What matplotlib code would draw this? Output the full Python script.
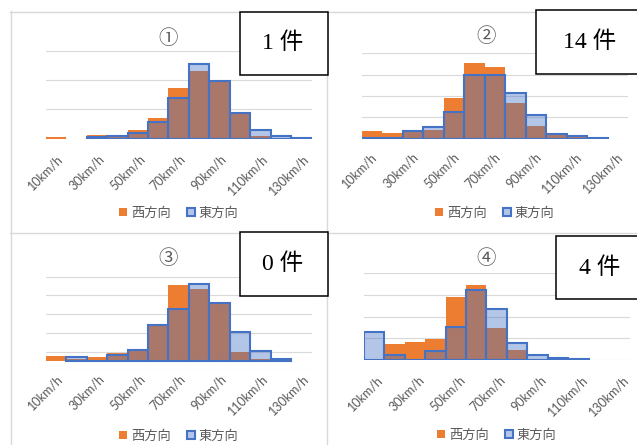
import matplotlib.pyplot as plt
from matplotlib.patches import Rectangle, Patch
from matplotlib.lines import Line2D
from matplotlib.transforms import ScaledTranslation
import numpy as np

nan = np.nan

speeds = ['10km/h', '20km/h', '30km/h', '40km/h', '50km/h', '60km/h', '70km/h',
          '80km/h', '90km/h', '100km/h', '110km/h', '120km/h', '130km/h']
series_names = ['西方向', '東方向']
titles = ['①', '②', '③', '④']
counts = ['1 件', '14 件', '0 件', '4 件']

# values (share per speed class)
west1 = [0.45, 0, 1.1, 0.7, 3.0, 7.0, 17.3, 23.0, 19.8, 8.9, 0.9, 0.4, 0]
east1 = [nan, nan, 0.45, 0.8, 2.0, 5.7, 14.0, 25.5, 19.8, 8.9, 2.8, 0.8, 0.1]
west2 = [3.6, 2.5, 3.1, 4.1, 19.2, 35.6, 33.7, 16.6, 5.9, 1.6, 1.0, 0, 0]
east2 = [0.2, 0.5, 3.6, 5.6, 12.7, 30.0, 29.7, 21.4, 10.9, 2.3, 1.2, 0.2, nan]
west3 = [2.9, 1.0, 2.3, 4.1, 5.7, 19.1, 40.5, 38.2, 30.2, 5.0, 1.2, 0, 0]
east3 = [nan, 2.1, 0, 3.2, 5.7, 19.1, 27.7, 41.2, 31.1, 15.2, 5.2, 0.9, nan]
west4 = [0.8, 7.5, 8.2, 9.9, 29.0, 34.2, 14.9, 4.9, 0.5, 0, 0, 0, 0]
east4 = [13.1, 2.3, 0, 4.1, 15.1, 31.9, 23.6, 7.8, 2.6, 1.1, 0.5, nan, nan]

W, H = 637, 445
ORANGE = '#ED7D31'
BLUE = '#4472C4'
BLUE_FILL = (0.267, 0.447, 0.769, 0.4)
GRAY_TXT = '#595959'
GRID = '#D9D9D9'

plt.rcParams['font.family'] = ['Lato', 'Noto Sans CJK JP', 'DejaVu Sans']

fig = plt.figure(figsize=(W / 100, H / 100), dpi=100)


def fx(x):
    return x / W


def fy(y):
    return 1 - y / H


# chart area borders
for x0, y0, x1, y1 in [(10.5, 11, 10.5, 445), (326.5, 11, 326.5, 445),
                       (10, 11.5, 637, 11.5), (10, 233, 637, 233)]:
    fig.add_artist(Line2D([fx(x0), fx(x1)], [fy(y0), fy(y1)], color=GRID, lw=1,
                          transform=fig.transFigure))

panels = [
    # west, east, axes box px, ylim, grid ticks, title xy, legend y, count box, count xy, label offset px
    (west1, east1, (45.7, 50.7, 311.7, 138.7), (0, 30), [0, 10, 20, 30], (168, 38), 213,
     (240, 12, 328, 75), (283, 43), (5, 18)),
    (west2, east2, (361.7, 53.3, 628, 138.7), (0, 40), [0, 10, 20, 30, 40], (486, 37), 213,
     (536, 10, 640, 74), (590, 42), (3, 16)),
    (west3, east3, (45.7, 276.7, 311.7, 370.3), (-5, 45), [-5, 5, 15, 25, 35, 45], (168, 258), 436,
     (240, 232, 328, 296), (283, 264), (5, 6)),
    (west4, east4, (363.7, 272.7, 629.7, 360.3), (0, 40), [0, 10, 20, 30, 40], (486, 258), 435,
     (556, 236, 640, 299), (600, 268), (7, 17)),
]

x = np.arange(len(speeds))

for i, (west, east, box, ylim, gticks, txy, legy, cbox, cxy, loff) in enumerate(panels):
    l, t, r, b = box
    ax = fig.add_axes([fx(l), fy(b), fx(r - l), (b - t) / H])
    west = np.array(west, dtype=float)
    east = np.array(east, dtype=float)

    ax.bar(x, west, width=1.0, color=ORANGE, zorder=2)
    m = ~np.isnan(east)
    ax.bar(x[m], east[m], width=1.0, facecolor=BLUE_FILL,
           edgecolor=BLUE, linewidth=1.5, zorder=3)

    ax.set_xlim(-0.5, len(speeds) - 0.5)
    ax.set_ylim(*ylim)
    ax.set_yticks(gticks)
    ax.yaxis.grid(True, color=GRID, linewidth=0.8, zorder=0)
    ax.set_axisbelow(True)
    ax.tick_params(axis='y', length=0, labelleft=False)
    for s in ax.spines.values():
        s.set_visible(False)
    ax.set_xticks(x[::2])
    ax.set_xticklabels(speeds[::2], rotation=45, ha='right', va='center',
                       rotation_mode='anchor', fontsize=9, color=GRAY_TXT)
    ax.tick_params(axis='x', length=0, pad=loff[1] * 0.72)
    shift = ScaledTranslation(loff[0] / 100, 0, fig.dpi_scale_trans)
    for lab in ax.get_xticklabels():
        lab.set_transform(lab.get_transform() + shift)

    fig.text(fx(txy[0]), fy(txy[1]), titles[i], ha='center', va='center',
             fontsize=14, color=GRAY_TXT, family=['Noto Sans CJK JP', 'DejaVu Sans'])

    handles = [Patch(facecolor=ORANGE, edgecolor='none'),
               Patch(facecolor=BLUE_FILL, edgecolor=BLUE, linewidth=1.5)]
    fig.legend(handles, series_names, loc='center', bbox_to_anchor=(fx((l + r) / 2), fy(legy)),
               ncol=2, frameon=False, handlelength=0.6, handleheight=0.6,
               handletextpad=0.3, columnspacing=1.2, labelcolor=GRAY_TXT,
               prop={'family': ['Noto Sans CJK JP', 'DejaVu Sans'], 'size': 9.5})

    bx0, by0, bx1, by1 = cbox
    fig.add_artist(Rectangle((fx(bx0), fy(by1)), fx(bx1 - bx0), (by1 - by0) / H,
                             facecolor='white', edgecolor='black', linewidth=1.1,
                             transform=fig.transFigure, zorder=10))
    fig.text(fx(cxy[0]), fy(cxy[1]), counts[i], ha='center', va='center', fontsize=17,
             color='black', family=['Liberation Serif', 'Noto Sans CJK JP'], zorder=11)

fig.savefig('out.png', dpi=100)
